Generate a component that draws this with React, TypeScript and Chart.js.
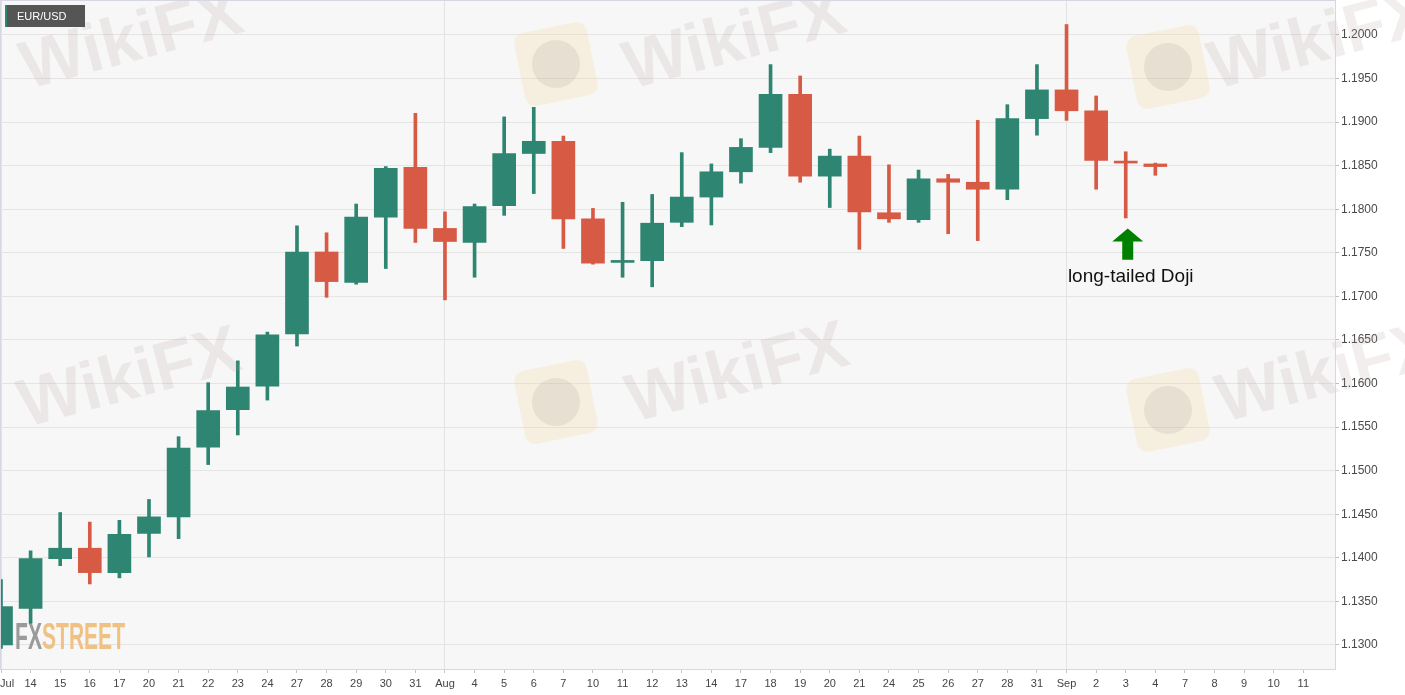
import React, { useEffect, useRef } from 'react';
import { Chart, registerables } from 'chart.js';

Chart.register(...registerables);

// ---------- data ----------
const xLabels = ['Jul', '14', '15', '16', '17', '20', '21', '22', '23', '24', '27', '28', '29', '30', '31', 'Aug', '4', '5', '6', '7', '10', '11', '12', '13', '14', '17', '18', '19', '20', '21', '24', '25', '26', '27', '28', '31', 'Sep', '2', '3', '4', '7', '8', '9', '10', '11'];

const opens = [1.1300, 1.1342, 1.1399, 1.1411, 1.1383, 1.1428, 1.1447, 1.1527, 1.1570, 1.1597, 1.1657, 1.1751, 1.1716, 1.1791, 1.1848, 1.1778, 1.1762, 1.1804, 1.1864, 1.1878, 1.1789, 1.1739, 1.1741, 1.1785, 1.1814, 1.1843, 1.1871, 1.1932, 1.1838, 1.1861, 1.1796, 1.1788, 1.1835, 1.1831, 1.1823, 1.1904, 1.1937, 1.1913, 1.1855, 1.1852];
const highs = [1.1375, 1.1408, 1.1452, 1.1441, 1.1443, 1.1467, 1.1539, 1.1601, 1.1626, 1.1659, 1.1781, 1.1773, 1.1806, 1.1849, 1.1910, 1.1797, 1.1806, 1.1906, 1.1917, 1.1884, 1.1801, 1.1808, 1.1817, 1.1865, 1.1852, 1.1881, 1.1966, 1.1953, 1.1869, 1.1884, 1.1851, 1.1845, 1.1840, 1.1902, 1.1920, 1.1966, 1.2012, 1.1930, 1.1866, 1.1853];
const lows = [1.1296, 1.1325, 1.1391, 1.1370, 1.1377, 1.1401, 1.1422, 1.1507, 1.1541, 1.1581, 1.1643, 1.1699, 1.1714, 1.1732, 1.1762, 1.1696, 1.1722, 1.1793, 1.1818, 1.1755, 1.1737, 1.1722, 1.1711, 1.1780, 1.1782, 1.1830, 1.1865, 1.1831, 1.1802, 1.1754, 1.1785, 1.1785, 1.1772, 1.1764, 1.1811, 1.1885, 1.1902, 1.1823, 1.1790, 1.1839];
const closes = [1.1344, 1.1399, 1.1411, 1.1383, 1.1427, 1.1447, 1.1526, 1.1569, 1.1596, 1.1656, 1.1751, 1.1717, 1.1791, 1.1847, 1.1778, 1.1763, 1.1803, 1.1864, 1.1878, 1.1789, 1.1738, 1.1740, 1.1784, 1.1814, 1.1843, 1.1871, 1.1932, 1.1838, 1.1861, 1.1797, 1.1789, 1.1835, 1.1831, 1.1823, 1.1904, 1.1937, 1.1913, 1.1856, 1.1853, 1.1849];

const yTicks = [1.1300, 1.1350, 1.1400, 1.1450, 1.1500, 1.1550, 1.1600, 1.1650, 1.1700, 1.1750, 1.1800, 1.1850, 1.1900, 1.1950, 1.2000];
const monthStarts = [0, 15, 36];
const yMin = 1.12724;
const yMax = 1.2039;
const xMax = 45.07;

const symbol = 'EUR/USD';
const annotationText = 'long-tailed Doji';
const annotationIndex = 38;
const arrowTopValue = 1.1778;
const arrowBottomValue = 1.1742;
const annotationTextValue = 1.1722;

// ---------- styles ----------
const UP = '#2e8571';
const DOWN = '#d75a45';
const FONT = "'Liberation Sans', Arial, Helvetica, sans-serif";

const candleColors = opens.map((o, i) => (closes[i] >= o ? UP : DOWN));

const decoPlugin = {
  id: 'deco',
  beforeDraw(chart: any) {
    const { ctx, chartArea: a } = chart;
    ctx.save();
    ctx.fillStyle = '#ffffff';
    ctx.fillRect(0, 0, chart.width, chart.height);
    ctx.fillStyle = '#f7f7f7';
    ctx.fillRect(a.left, a.top, a.right - a.left, a.bottom - a.top);
    ctx.restore();
  },
  beforeDatasetsDraw(chart: any) {
    const { ctx } = chart;
    ctx.save();
    ctx.font = `bold 36px ${FONT}`;
    ctx.textBaseline = 'alphabetic';
    ctx.textAlign = 'left';
    ctx.fillStyle = '#9a9a9a';
    ctx.fillText('FX', 15, 649, 27);
    ctx.fillStyle = '#efc283';
    ctx.fillText('STREET', 42, 649, 83);
    ctx.restore();
  },
  afterDatasetsDraw(chart: any) {
    const { ctx, chartArea: a } = chart;
    const xs = chart.scales.x;
    const ys = chart.scales.y;

    // watermarks
    ctx.save();
    const texts = [[132, 42], [735, 42], [1320, 42], [130, 380], [738, 375], [1328, 375]];
    ctx.font = `bold 68px ${FONT}`;
    ctx.textAlign = 'center';
    ctx.textBaseline = 'middle';
    ctx.fillStyle = 'rgba(175,155,150,0.17)';
    texts.forEach(([x, y]) => {
      ctx.save();
      ctx.translate(x, y);
      ctx.rotate(-0.26);
      ctx.fillText('WikiFX', 0, 0);
      ctx.restore();
    });
    const logos = [[556, 64], [1168, 67], [556, 402], [1168, 410]];
    logos.forEach(([x, y]) => {
      ctx.save();
      ctx.translate(x, y);
      ctx.rotate(-0.2);
      ctx.fillStyle = 'rgba(245,215,140,0.22)';
      ctx.beginPath();
      (ctx as any).roundRect(-37, -37, 74, 74, 10);
      ctx.fill();
      ctx.fillStyle = 'rgba(150,140,140,0.16)';
      ctx.beginPath();
      ctx.arc(0, 0, 24, 0, Math.PI * 2);
      ctx.fill();
      ctx.restore();
    });
    ctx.restore();

    // frame
    ctx.save();
    ctx.strokeStyle = '#d7d7e3';
    ctx.lineWidth = 1;
    ctx.strokeRect(a.left - 0.5, a.top - 0.5, a.right - a.left + 1, a.bottom - a.top + 1);
    ctx.restore();

    // annotation arrow
    const cx = xs.getPixelForValue(annotationIndex) + 2;
    const top = ys.getPixelForValue(arrowTopValue);
    const bottom = ys.getPixelForValue(arrowBottomValue);
    ctx.save();
    ctx.fillStyle = '#008000';
    ctx.beginPath();
    ctx.moveTo(cx, top);
    ctx.lineTo(cx + 15.5, top + 13);
    ctx.lineTo(cx + 5.5, top + 13);
    ctx.lineTo(cx + 5.5, bottom);
    ctx.lineTo(cx - 5.5, bottom);
    ctx.lineTo(cx - 5.5, top + 13);
    ctx.lineTo(cx - 15.5, top + 13);
    ctx.closePath();
    ctx.fill();
    ctx.fillStyle = '#111111';
    ctx.font = `19px ${FONT}`;
    ctx.textAlign = 'center';
    ctx.textBaseline = 'middle';
    ctx.fillText(annotationText, xs.getPixelForValue(annotationIndex) + 5, ys.getPixelForValue(annotationTextValue));
    ctx.restore();

    // symbol box
    ctx.save();
    ctx.fillStyle = '#555555';
    ctx.fillRect(5, 5, 80, 22);
    ctx.fillStyle = UP;
    ctx.fillRect(5, 5, 2, 22);
    ctx.fillStyle = '#ffffff';
    ctx.font = `11px ${FONT}`;
    ctx.textAlign = 'left';
    ctx.textBaseline = 'middle';
    ctx.fillText(symbol, 17, 16.5);
    ctx.restore();
  },
};

export default function App() {
  const ref = useRef<HTMLCanvasElement | null>(null);

  useEffect(() => {
    if (!ref.current) return;
    const chart = new Chart(ref.current, {
      type: 'bar',
      data: {
        datasets: [
          {
            label: 'body',
            data: opens.map((o, i) => ({ x: i, y: [o, closes[i]] })) as any,
            backgroundColor: candleColors,
            barThickness: 23,
            minBarLength: 2,
            grouped: false,
            order: 0,
          } as any,
          {
            label: 'wick',
            data: lows.map((l, i) => ({ x: i, y: [l, highs[i]] })) as any,
            backgroundColor: candleColors,
            barThickness: 3,
            grouped: false,
            order: 1,
          } as any,
        ],
      },
      options: {
        animation: false,
        responsive: false,
        devicePixelRatio: 1,
        layout: { padding: { top: 1, left: 1, right: 0, bottom: 0 } },
        plugins: {
          legend: { display: false },
          tooltip: { enabled: false },
        },
        events: [],
        scales: {
          x: {
            type: 'linear',
            min: 0,
            max: xMax,
            offset: false,
            position: 'bottom',
            border: { display: false },
            grid: {
              offset: false,
              color: (c: any) => (monthStarts.includes(c.index) ? '#e2e2e2' : 'rgba(0,0,0,0)'),
              tickColor: '#c4c4cc',
              tickLength: 4,
              lineWidth: 1,
            },
            afterBuildTicks: (scale: any) => {
              scale.ticks = xLabels.map((_, i) => ({ value: i }));
            },
            afterFit: (scale: any) => {
              scale.height = 26;
              scale.paddingLeft = 0;
              scale.paddingRight = 0;
            },
            ticks: {
              autoSkip: false,
              maxRotation: 0,
              minRotation: 0,
              padding: 4,
              color: '#444444',
              font: { family: FONT, size: 11 },
              callback: (v: any) => {
                const i = Math.round(Number(v));
                const s = xLabels[i] ?? '';
                return i === 0 ? '    ' + s : s;
              },
            },
          } as any,
          y: {
            type: 'linear',
            position: 'right',
            min: yMin,
            max: yMax,
            beginAtZero: false,
            border: { display: false },
            grid: {
              color: '#e4e4e4',
              tickColor: '#bdbdc6',
              tickLength: 4,
            },
            afterBuildTicks: (scale: any) => {
              scale.ticks = yTicks.map((v) => ({ value: v }));
            },
            afterFit: (scale: any) => {
              scale.width = 70;
              scale.paddingTop = 0;
              scale.paddingBottom = 0;
            },
            ticks: {
              padding: 2,
              color: '#4a4a4a',
              font: { family: FONT, size: 12 },
              callback: (v: any) => Number(v).toFixed(4),
            },
          } as any,
        },
      },
      plugins: [decoPlugin],
    });
    return () => chart.destroy();
  }, []);

  return (
    <div style={{ position: 'fixed', left: 0, top: 0, width: 1405, height: 695, background: '#ffffff' }}>
      <canvas ref={ref} width={1405} height={695} style={{ display: 'block' }} />
    </div>
  );
}
